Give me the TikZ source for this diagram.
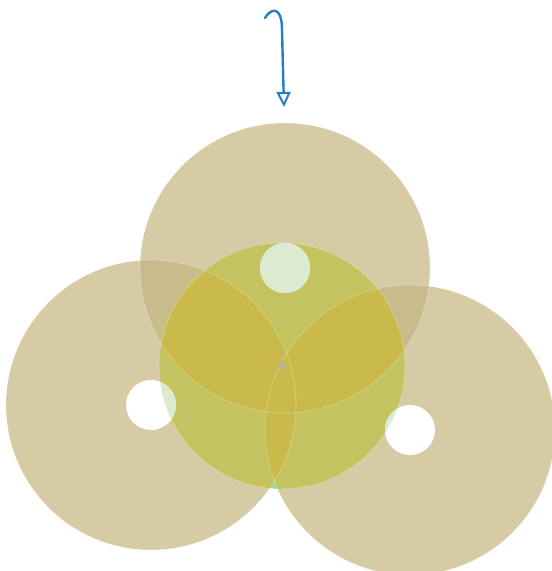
\documentclass[tikz,border=0pt]{standalone}
\usepackage{xcolor}
\usepackage{tikz}
\usetikzlibrary{arrows.meta}

\definecolor{ringtan}{HTML}{D6CBA4}
\definecolor{ringdark}{HTML}{C9BC8C}
\definecolor{coreover}{HTML}{A3D78C}
\definecolor{coresingle}{HTML}{C3C35F}
\definecolor{coredouble}{HTML}{C9BA4B}
\definecolor{holetint}{HTML}{DCEBD0}
\definecolor{pinblue}{HTML}{1F7FCC}
\definecolor{hubgray}{HTML}{B9B2A3}

\begin{document}
\begin{tikzpicture}[
    x=1pt, y=-1pt,
    edge/.style={draw=white, draw opacity=0.35, line width=0.6pt},
    arrow/.style={pinblue, line width=2.4pt, line cap=round, line join=round, -{Triangle[open, length=15pt, width=14pt, line width=2pt]}}
]
\useasboundingbox (0,0) rectangle (552,571);

\coordinate (top) at (285,268);
\coordinate (left) at (151,405);
\coordinate (right) at (410,430);
\coordinate (core) at (282,366);
\def\ringr{145}
\def\holer{25}
\def\corer{123}

% rings
\foreach \c in {top,left,right}
  \fill[ringtan] (\c) circle (\ringr);
\begin{scope}
  \clip (top) circle (\ringr);
  \fill[ringdark] (left) circle (\ringr) (right) circle (\ringr);
\end{scope}
\begin{scope}
  \clip (left) circle (\ringr);
  \fill[ringdark] (right) circle (\ringr);
\end{scope}

% core disc
\fill[coreover] (core) circle (\corer);
\begin{scope}
  \clip (core) circle (\corer);
  \foreach \c in {top,left,right}
    \fill[coresingle] (\c) circle (\ringr);
  \begin{scope}
    \clip (top) circle (\ringr);
    \fill[coredouble] (left) circle (\ringr) (right) circle (\ringr);
  \end{scope}
  \begin{scope}
    \clip (left) circle (\ringr);
    \fill[coredouble] (right) circle (\ringr);
  \end{scope}
\end{scope}

% holes
\foreach \c in {top,left,right}
  \fill[white] (\c) circle (\holer);
\begin{scope}
  \clip (core) circle (\corer);
  \foreach \c in {top,left,right}
    \fill[holetint] (\c) circle (\holer);
\end{scope}

% edges
\foreach \c in {top,left,right}
  \draw[edge] (\c) circle (\ringr);
\draw[edge] (core) circle (\corer);

\fill[hubgray] (core) circle (3.5);

% pointer
\coordinate (hook) at (265,18);
\coordinate (tip) at (284,107);
\draw[arrow] (hook) .. controls (270,9) and (282,4) .. (282,30) -- (tip);
\end{tikzpicture}
\end{document}
